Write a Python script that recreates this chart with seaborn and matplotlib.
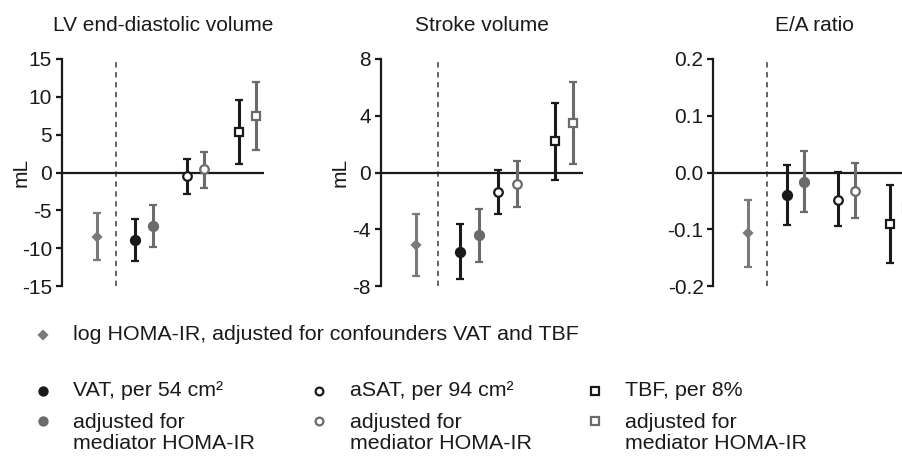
"""
Forest-style panels: LV volumes and E/A ratio vs fat depots / HOMA-IR
"""

import matplotlib
matplotlib.use("Agg")
import matplotlib.pyplot as plt
import seaborn as sns

# estimate and 95% CI
# order: log HOMA-IR, VAT, VAT adj, aSAT, aSAT adj, TBF, TBF adj
edv_est = [-8.5, -8.9, -7.1, -0.5, 0.4, 5.4, 7.5]
edv_lo = [-11.5, -11.7, -9.8, -2.9, -2.0, 1.1, 3.0]
edv_hi = [-5.4, -6.1, -4.3, 1.8, 2.7, 9.6, 11.9]

sv_est = [-5.1, -5.6, -4.4, -1.4, -0.8, 2.2, 3.5]
sv_lo = [-7.3, -7.5, -6.3, -2.9, -2.4, -0.5, 0.6]
sv_hi = [-2.9, -3.6, -2.6, 0.2, 0.8, 4.9, 6.4]

ea_est = [-0.107, -0.040, -0.017, -0.048, -0.032, -0.090, -0.063]
ea_lo = [-0.166, -0.093, -0.070, -0.095, -0.081, -0.159, -0.130]
ea_hi = [-0.048, 0.013, 0.038, 0.001, 0.017, -0.022, 0.004]

titles = ["LV end-diastolic volume", "Stroke volume", "E/A ratio"]
yticks = [[-15, -10, -5, 0, 5, 10, 15], [-8, -4, 0, 4, 8], [-0.2, -0.1, 0.0, 0.1, 0.2]]
ytick_fmt = ["{:.0f}", "{:.0f}", "{:.1f}"]
ylabels = ["mL", "mL", ""]

legend_top = "log HOMA-IR, adjusted for confounders VAT and TBF"
legend_main = ["VAT, per 54 cm²", "aSAT, per 94 cm²", "TBF, per 8%"]
legend_adj = "adjusted for\nmediator HOMA-IR"

# layout (pixels, 903x466 canvas)
W, H = 903, 466
lefts = [61.7, 380.7, 713.3]
ax_w = 202
ax_top, ax_bot = 59, 286
# x slot of each marker, px from the y axis (middle panel is tighter)
xpos = [
    [35, 73, 91, 125, 142, 177, 194],
    [35, 79, 98, 117, 136, 174, 192],
    [35, 74, 91, 125, 142, 177, 194],
]
split = [54, 57, 54]

BLACK = "#1a1a1a"
GREY = "#6b6b6b"
LGREY = "#7a7a7a"
styles = [
    dict(marker="D", color=LGREY, mfc=LGREY, ms=4.2),
    dict(marker="o", color=BLACK, mfc=BLACK, ms=6.5),
    dict(marker="o", color=GREY, mfc=GREY, ms=6.5),
    dict(marker="o", color=BLACK, mfc="white", ms=6.2),
    dict(marker="o", color=GREY, mfc="white", ms=6.2),
    dict(marker="s", color=BLACK, mfc="white", ms=6.0),
    dict(marker="s", color=GREY, mfc="white", ms=6.0),
]

sns.set_style("ticks")
plt.rcParams["font.family"] = ["Liberation Sans", "DejaVu Sans"]
plt.rcParams["axes.unicode_minus"] = False
plt.rcParams["axes.linewidth"] = 1.6
plt.rcParams["xtick.color"] = BLACK
plt.rcParams["ytick.color"] = BLACK

fig = plt.figure(figsize=(W / 100, H / 100), dpi=100)

panels = [(edv_est, edv_lo, edv_hi), (sv_est, sv_lo, sv_hi), (ea_est, ea_lo, ea_hi)]
for i, (est, lo, hi) in enumerate(panels):
    ax = fig.add_axes([lefts[i] / W, 1 - ax_bot / H, ax_w / W, (ax_bot - ax_top) / H])
    ax.set_xlim(0, ax_w)
    ax.set_ylim(yticks[i][0], yticks[i][-1])

    for j in range(len(est)):
        st = styles[j]
        ax.errorbar(xpos[i][j], est[j], yerr=[[est[j] - lo[j]], [hi[j] - est[j]]],
                    fmt=st["marker"], color=st["color"], mfc=st["mfc"], mec=st["color"],
                    mew=1.6, ms=st["ms"], elinewidth=2.2, capsize=2.8, capthick=2.2,
                    zorder=3, clip_on=False)

    ax.axhline(0, color=BLACK, lw=1.6, zorder=2)
    ax.axvline(split[i], color="#3a3a3a", lw=1.1, ls=(0, (3.5, 3)), zorder=1)

    sns.despine(ax=ax, bottom=True)
    ax.spines["left"].set_color(BLACK)
    ax.set_xticks([])
    ax.set_yticks(yticks[i])
    ax.set_yticklabels([ytick_fmt[i].format(t) for t in yticks[i]])
    ax.tick_params(axis="y", length=4, width=1.6, labelsize=15, pad=3)
    ax.set_ylabel(ylabels[i], fontsize=15, color=BLACK, va="center")
    ax.yaxis.set_label_coords(-41 / ax_w, 0.5)
    ax.set_title(titles[i], fontsize=15, pad=20, color=BLACK)

# legend drawn on a full-figure overlay in pixel units
lax = fig.add_axes([0, 0, 1, 1])
lax.set_xlim(0, W)
lax.set_ylim(H, 0)
lax.axis("off")

def mark(x, y, st, scale=1.0):
    lax.plot(x, y, marker=st["marker"], color=st["color"], mfc=st["mfc"], mec=st["color"],
             mew=1.6, ms=st["ms"] * scale, ls="none")

mark(43, 335, styles[0])
lax.text(73, 335, legend_top, fontsize=15.4, va="center", color=BLACK)

col_mark = [43, 319, 595]
col_text = [73, 350, 625]
for c in range(3):
    mark(col_mark[c], 391, styles[1 + 2 * c], 0.9)
    lax.text(col_text[c], 391, legend_main[c], fontsize=15.4, va="center", color=BLACK)
    mark(col_mark[c], 421, styles[2 + 2 * c], 0.9)
    lax.text(col_text[c], 433, legend_adj, fontsize=15.4, va="center", color=BLACK,
             linespacing=1.12)

fig.savefig("out.png", dpi=100)
